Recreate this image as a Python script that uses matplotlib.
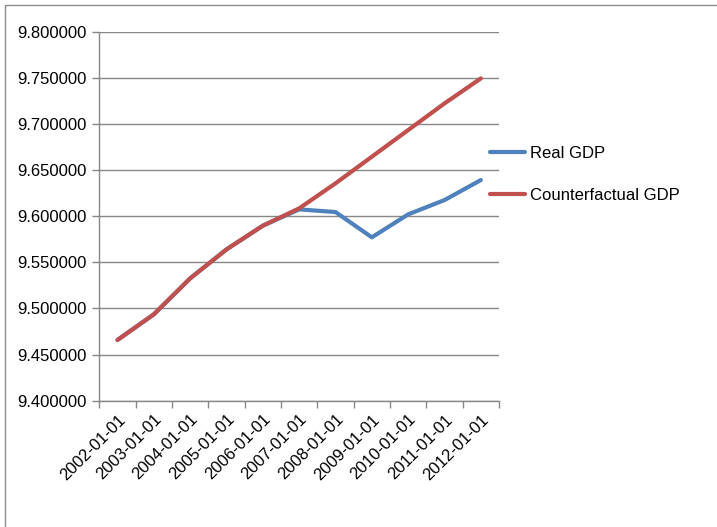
import matplotlib.pyplot as plt
import matplotlib.patches as mpatches
import numpy as np

dates = ['2002-01-01', '2003-01-01', '2004-01-01', '2005-01-01', '2006-01-01', '2007-01-01',
         '2008-01-01', '2009-01-01', '2010-01-01', '2011-01-01', '2012-01-01']
real_gdp = [9.4658, 9.4936, 9.5326, 9.5640, 9.5897, 9.6074,
            9.6045, 9.5771, 9.6020, 9.6175, 9.6392]
counterfactual_gdp = [9.4658, 9.4936, 9.5326, 9.5640, 9.5897, 9.6085,
                      9.6356, 9.6645, 9.6934, 9.7223, 9.7494]
yticks = np.arange(9.40, 9.80001, 0.05)

BLUE = '#4F81BD'
RED = '#C0504D'
GRID = '#878787'

plt.rcParams['font.family'] = ['Liberation Sans Narrow', 'Liberation Sans', 'DejaVu Sans']
plt.rcParams['font.size'] = 12

fig = plt.figure(figsize=(7.17, 5.27), dpi=100)
ax = fig.add_axes([0.1385, 0.2397, 0.5575, 0.7001])

x = np.arange(len(dates))
ax.plot(x, real_gdp, color=BLUE, lw=3, solid_capstyle='round', label='Real GDP')
ax.plot(x, counterfactual_gdp, color=RED, lw=3, solid_capstyle='round', label='Counterfactual GDP')

ax.set_xlim(-0.5, len(dates) - 0.5)
ax.set_ylim(9.40, 9.80)
ax.set_yticks(yticks)
ax.set_yticklabels(['%.6f' % v for v in yticks])
ax.yaxis.grid(True, color=GRID, lw=1)
ax.set_axisbelow(True)

ax.set_xticks(x)
ax.set_xticklabels(dates, rotation=45, ha='right', va='top', rotation_mode='anchor')
ax.set_xticks(np.arange(-0.5, len(dates)), minor=True)
ax.tick_params(axis='x', which='major', length=0, pad=8)
ax.tick_params(axis='x', which='minor', length=5, color=GRID, width=1)
ax.tick_params(axis='y', length=5, color=GRID, width=1, pad=4)

for side in ['top', 'right']:
    ax.spines[side].set_visible(False)
for side in ['left', 'bottom']:
    ax.spines[side].set_color(GRID)
    ax.spines[side].set_linewidth(1)

leg = fig.legend(loc='upper left', bbox_to_anchor=(0.662, 0.752), frameon=False,
                 handlelength=2.15, handletextpad=0.25, labelspacing=1.65, fontsize=12)

# chart area frame
fig.patches.append(mpatches.Rectangle((5 / 717, -0.1), 1.2, 1 - 5 / 527 + 0.1,
                                      transform=fig.transFigure, fill=False,
                                      edgecolor='#8c8c8c', lw=1))

fig.savefig('out.png', dpi=100)
